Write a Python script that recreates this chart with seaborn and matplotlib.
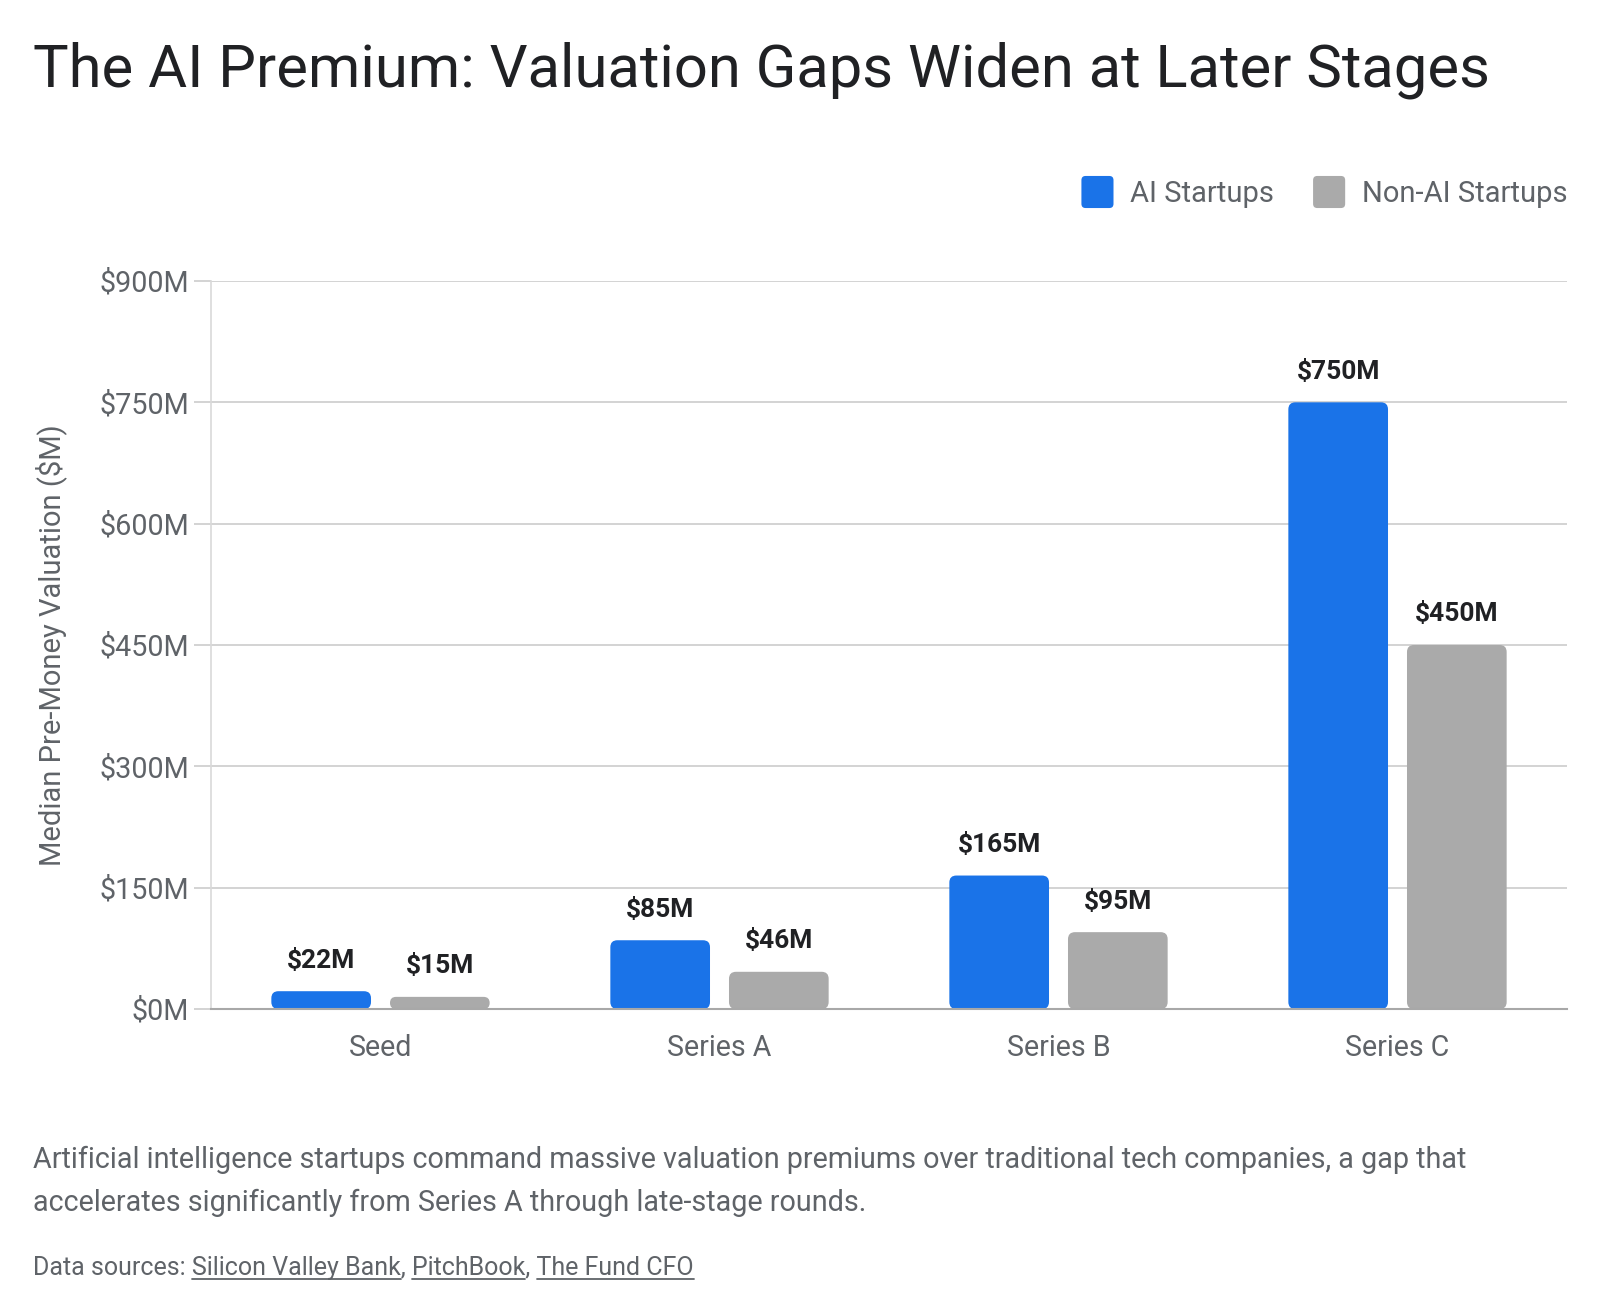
import matplotlib
matplotlib.use("Agg")
import matplotlib.pyplot as plt
import seaborn as sns
import pandas as pd
from matplotlib.patches import FancyBboxPatch, Patch
from matplotlib.legend_handler import HandlerPatch

stages = ["Seed", "Series A", "Series B", "Series C"]
ai_values = [22, 85, 165, 750]
non_ai_values = [15, 46, 95, 450]
series_names = ["AI Startups", "Non-AI Startups"]
colors = ["#1a73e8", "#aaaaaa"]
y_ticks = [0, 150, 300, 450, 600, 750, 900]

title = "The AI Premium: Valuation Gaps Widen at Later Stages"
y_label = "Median Pre-Money Valuation ($M)"
desc_lines = ["Artificial intelligence startups command massive valuation premiums over traditional tech companies, a gap that",
              "accelerates significantly from Series A through late-stage rounds."]
source_parts = [("Data sources: ", False), ("Silicon Valley Bank", True), (", ", False),
                ("PitchBook", True), (", ", False), ("The Fund CFO", True)]

df = pd.DataFrame({
    "Stage": stages * 2,
    "Valuation": ai_values + non_ai_values,
    "Group": [series_names[0]] * len(stages) + [series_names[1]] * len(stages),
})

sns.set_theme(style="white")
plt.rcParams['font.family'] = ['Roboto', 'DejaVu Sans']

W, H = 1600, 1314
fig = plt.figure(figsize=(W / 100, H / 100), dpi=100)
ax_left, ax_right, ax_top, ax_bottom = 211, 1567, 281, 1009
ax = fig.add_axes([ax_left / W, 1 - ax_bottom / H, (ax_right - ax_left) / W, (ax_bottom - ax_top) / H])

sns.barplot(data=df, x="Stage", y="Valuation", hue="Group", palette=colors,
            width=0.7, gap=0.16, saturation=1, ax=ax, legend=False)

ax.set_xlim(-0.5, len(stages) - 0.5)
ax.set_ylim(0, 900)
ax.set_yticks(y_ticks)
ax.set_yticklabels([f"${v}M" for v in y_ticks])

text_gray = "#5f6368"
dark = "#202124"

# rounded bars
px_per_x = (ax_right - ax_left) / (len(stages))
px_per_y = (ax_bottom - ax_top) / 900.0
aspect = px_per_x / px_per_y
rpx = 7.0
bars = list(ax.patches)
for p in bars:
    x, y = p.get_x(), p.get_y()
    w, h = p.get_width(), p.get_height()
    r = min(rpx / px_per_x, w / 2, (h / aspect) / 2)
    fb = FancyBboxPatch((x, y), w, h, boxstyle=f"round,pad=0,rounding_size={r}",
                        mutation_aspect=aspect, fc=p.get_facecolor(), ec="none", zorder=2)
    ax.add_patch(fb)
    p.set_visible(False)
    ax.annotate(f"${h:.0f}M", xy=(x + w / 2, h), xytext=(0, 17), textcoords="offset points",
                ha="center", va="baseline", fontsize=19, fontweight="bold", color=dark)

ax.set_xlabel("")
ax.set_ylabel(y_label, fontsize=21, color=text_gray)
ax.yaxis.set_label_coords((67 - ax_left) / (ax_right - ax_left), 0.5)
ax.yaxis.grid(True, color="#cccccc", lw=1.2)
ax.set_axisbelow(True)
for s in ["top", "right"]:
    ax.spines[s].set_visible(False)
ax.spines["left"].set_color("#d9d9d9")
ax.spines["left"].set_linewidth(1.2)
ax.spines["bottom"].set_color("#a8a8a8")
ax.spines["bottom"].set_linewidth(1.5)
ax.tick_params(axis="y", length=12, width=1.2, color="#cccccc", pad=4, labelsize=20.7, labelcolor=text_gray, left=True)
ax.tick_params(axis="x", length=0, pad=18, labelsize=20.6, labelcolor=text_gray)


class RoundedHandler(HandlerPatch):
    def create_artists(self, legend, orig_handle, xdescent, ydescent, width, height, fontsize, trans):
        size = width
        x0 = -xdescent
        y0 = -ydescent + (height - size) / 2
        pp = FancyBboxPatch((x0, y0), size, size, boxstyle=f"round,pad=0,rounding_size={size * 0.13}",
                            fc=orig_handle.get_facecolor(), ec="none", transform=trans)
        return [pp]


handles = [Patch(facecolor=c, label=n) for c, n in zip(colors, series_names)]
leg = fig.legend(handles=handles, loc="center right", bbox_to_anchor=(1567 / W, 1 - 192 / H),
                 ncol=2, frameon=False, fontsize=21, handlelength=1.1, handleheight=1.4,
                 handletextpad=0.56, columnspacing=1.35, borderpad=0, borderaxespad=0,
                 handler_map={Patch: RoundedHandler()})
for t in leg.get_texts():
    t.set_color(text_gray)

fig.text(33 / W, 1 - 70 / H, title, fontsize=43, color=dark, va="center", ha="left")
fig.text(33 / W, 1 - 1160 / H, desc_lines[0], fontsize=20.7, color=text_gray, va="center", ha="left")
fig.text(33 / W, 1 - 1203 / H, desc_lines[1], fontsize=20.7, color=text_gray, va="center", ha="left")

# sources with underlines
renderer = fig.canvas.get_renderer()
full = "".join(s for s, _ in source_parts)
src_fs = 18
base_y = 1275
src_text = fig.text(33 / W, 1 - base_y / H, full, fontsize=src_fs, color=text_gray, va="baseline", ha="left")
fp = src_text.get_fontproperties()


def tw(s):
    if not s:
        return 0.0
    a = renderer.get_text_width_height_descent(s + "|", fp, ismath=False)[0]
    b = renderer.get_text_width_height_descent("|", fp, ismath=False)[0]
    return a - b


pos = ""
for s, link in source_parts:
    if link:
        x0 = 33 + tw(pos)
        x1 = 33 + tw(pos + s)
        fig.add_artist(plt.Line2D([x0 / W, x1 / W], [1 - (base_y + 4) / H] * 2, color=text_gray, lw=1.3,
                                  transform=fig.transFigure))
    pos += s

fig.savefig("out.png", dpi=100, facecolor="white")
